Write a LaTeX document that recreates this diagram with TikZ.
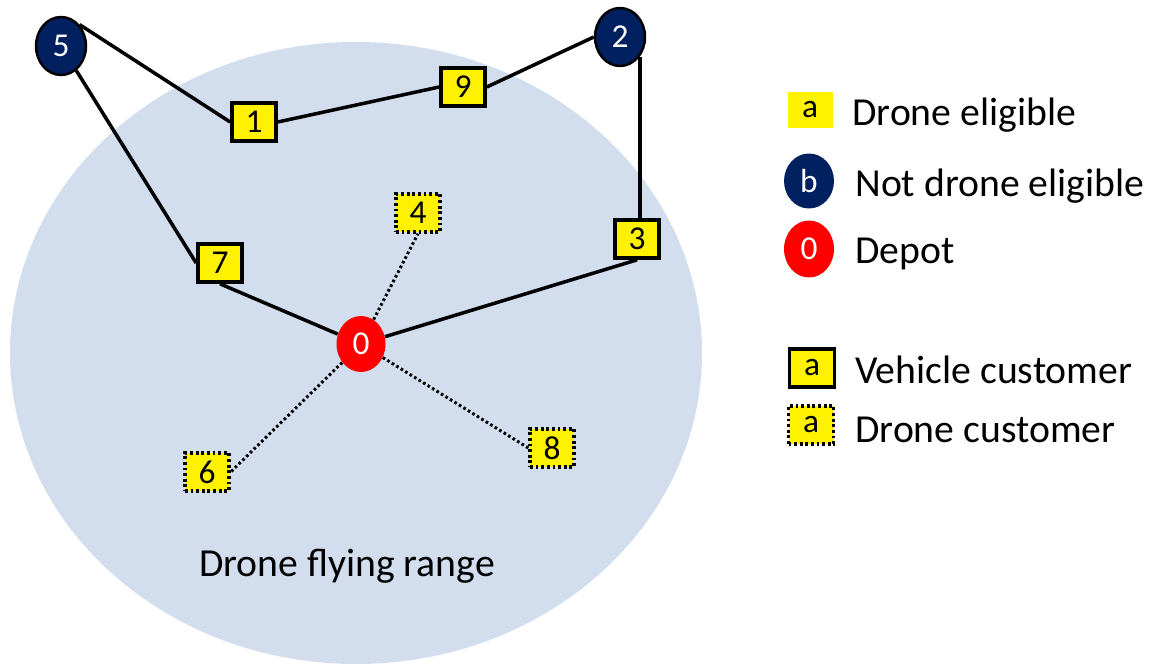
\documentclass[tikz,border=0pt]{standalone}
\usepackage{fontspec}
\setmainfont{Carlito}
\usetikzlibrary{shapes.geometric}
\definecolor{rangeblue}{HTML}{D2DEEE}
\definecolor{navy}{HTML}{002060}

\begin{document}
\begin{tikzpicture}[x=0.02cm, y=-0.02cm,
    numfont/.style={font=\fontsize{19}{19}\selectfont},
    vcust/.style={draw, line width=2.1pt, fill=yellow, minimum width=0.88cm, minimum height=0.76cm, inner sep=0pt, numfont},
    dcust/.style={vcust, line width=1.9pt, dash pattern=on 1.6pt off 1.6pt},
    noteli/.style={ellipse, draw, line width=1.4pt, fill=navy, text=white, minimum width=1.0cm, minimum height=1.16cm, inner sep=0pt, numfont},
    depot/.style={ellipse, fill=red, text=white, minimum width=0.98cm, minimum height=1.12cm, inner sep=0pt, numfont},
    route/.style={line width=2pt},
    flight/.style={line width=1.7pt, dash pattern=on 1.5pt off 1.5pt},
    legtext/.style={anchor=base west, inner sep=0pt, font=\fontsize{22.6}{26}\selectfont}]
    \useasboundingbox (0,0) rectangle (1151,665);

    % Draw the drone range
    \fill[rangeblue] (356,353) ellipse [x radius=346, y radius=311];
    \node[legtext, anchor=base] (rangelbl) at (347,576) {Drone flying range};

    % Draw the customers
    \node[noteli] (n5) at (61,46) {5};
    \node[noteli] (n2) at (620,37) {2};
    \node[vcust] (n1) at (254,122) {1};
    \node[vcust] (n9) at (463,87) {9};
    \node[vcust] (n7) at (220,263) {7};
    \node[vcust] (n3) at (637,239) {3};
    \node[dcust] (n4) at (418,213) {4};
    \node[dcust] (n6) at (207,472) {6};
    \node[dcust] (n8) at (552,448) {8};
    \node[depot] (n0) at (361,344) {0};

    % Draw the vehicle route
    \draw[route] (n0) -- (n3.south);
    \draw[route] (n2.-45) -- (n2.-45 |- n3.north);
    \draw[route] (n2.west) -- (n9.east);
    \draw[route] (n9.west) -- (n1.east);
    \draw[route] (n1.west) -- (n5.north east);
    \draw[route] (n5) -- (n7.west);
    \draw[route] (n7.south) -- (n0);

    % Draw the drone flights
    \draw[flight] (n0) -- (n4.south);
    \draw[flight] (n0) -- (n6.east);
    \draw[flight] (n0) -- (n8.west);

    % Draw the legend
    \node[fill=yellow, minimum width=0.9cm, minimum height=0.74cm, inner sep=0pt, numfont] (kelig) at (810,110) {a};
    \node[ellipse, fill=navy, text=white, minimum width=1.0cm, minimum height=1.1cm, inner sep=0pt, numfont] (knot) at (809,181) {b};
    \node[depot, minimum width=1.0cm, minimum height=1.14cm] (kdepot) at (809,249) {0};
    \node[vcust, minimum width=0.9cm] (kveh) at (812,368) {a};
    \node[dcust, minimum width=0.9cm] (kdrone) at (811,425) {a};

    \node[legtext] (telig) at (852,126) {Drone eligible};
    \node[legtext] (tnot) at (855,197) {Not drone eligible};
    \node[legtext] (tdepot) at (855,263) {Depot};
    \node[legtext] (tveh) at (855,383) {Vehicle customer};
    \node[legtext] (tdrone) at (855,442) {Drone customer};
\end{tikzpicture}
\end{document}
